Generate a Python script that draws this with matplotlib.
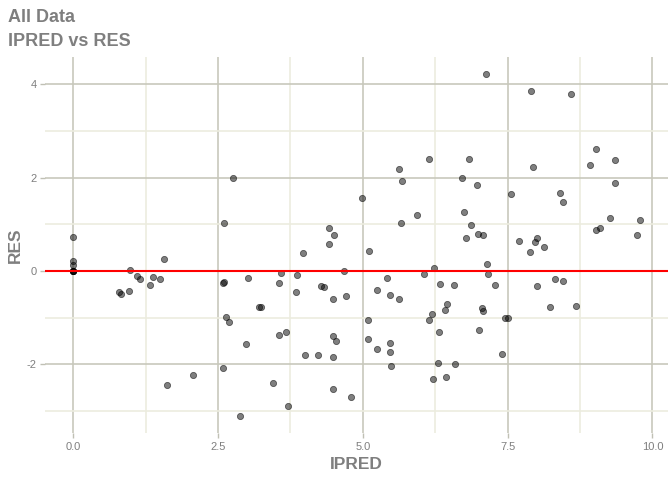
import matplotlib
matplotlib.use("Agg")
import matplotlib.pyplot as plt
import numpy as np

ipred = [0, 0, 0, 0, 0, 0, 0,
         2.76, 2.61, 1.57, 0.97, 1.10, 1.15, 1.37, 1.49, 1.33, 2.60, 0.78, 0.83, 0.96,
         1.61, 2.06,
         5.62, 5.67, 4.99, 5.65, 4.41, 4.50, 4.42, 3.97, 5.10, 3.59, 3.87, 4.67, 3.02,
         5.41, 2.59, 3.55, 4.27, 4.33, 5.25, 3.85, 5.47, 4.71, 4.48, 5.63, 3.21, 3.24,
         2.64, 2.69, 5.09, 3.67, 3.56, 4.48, 4.54, 5.09, 2.98, 5.47, 5.25, 5.47, 4.00,
         4.23, 4.49, 5.49, 2.58, 3.45, 4.49, 4.79, 3.71, 2.88,
         6.14, 6.83, 7.94, 6.72, 6.97, 7.56, 5.93, 6.74, 6.86, 6.98, 7.08, 6.78, 7.70,
         7.88, 7.98, 8.01, 8.12, 7.15, 6.22, 6.05, 7.16, 6.34, 6.58, 7.28, 8.00, 6.45,
         6.41, 6.19, 6.15, 7.05, 7.08, 7.45, 7.50, 6.31, 7.01, 7.40, 6.30, 6.59, 6.21,
         6.43,
         7.90, 8.60, 9.03, 9.36, 8.92, 9.35, 8.41, 8.45, 9.27, 9.78, 9.02, 9.10, 9.74,
         8.31, 8.45, 8.24, 8.68, 7.13]
res = [0.72, 0.22, 0.13, 0, 0, 0, 0,
       1.98, 1.03, 0.26, 0.02, -0.10, -0.18, -0.13, -0.18, -0.29, -0.24, -0.46, -0.50, -0.43,
       -2.45, -2.23,
       2.19, 1.92, 1.57, 1.03, 0.91, 0.78, 0.57, 0.38, 0.42, -0.05, -0.09, -0.01, -0.14,
       -0.14, -0.25, -0.26, -0.32, -0.35, -0.41, -0.46, -0.51, -0.53, -0.59, -0.61, -0.77, -0.76,
       -0.99, -1.09, -1.04, -1.30, -1.38, -1.39, -1.50, -1.46, -1.56, -1.55, -1.67, -1.73, -1.79,
       -1.79, -1.85, -2.03, -2.07, -2.39, -2.52, -2.70, -2.89, -3.11,
       2.39, 2.39, 2.23, 2.00, 1.83, 1.65, 1.20, 1.26, 0.98, 0.79, 0.77, 0.70, 0.64,
       0.41, 0.62, 0.70, 0.52, 0.16, 0.06, -0.06, -0.06, -0.27, -0.29, -0.29, -0.33, -0.70,
       -0.84, -0.93, -1.04, -0.80, -0.86, -1.00, -1.00, -1.30, -1.26, -1.77, -1.96, -2.00, -2.32,
       -2.27,
       3.85, 3.79, 2.60, 2.38, 2.27, 1.89, 1.66, 1.48, 1.14, 1.10, 0.87, 0.91, 0.77,
       -0.17, -0.21, -0.76, -0.74, 4.21]

x_ticks = [0.0, 2.5, 5.0, 7.5, 10.0]
x_tick_labels = ["0.0", "2.5", "5.0", "7.5", "10.0"]
y_ticks = [-2, 0, 2, 4]
y_tick_labels = ["-2", "0", "2", "4"]

grey_txt = "#7f7f7f"
fam = ["Liberation Sans", "DejaVu Sans"]

fig = plt.figure(figsize=(6.72, 4.8), dpi=100)
ax = fig.add_axes([0.067, 0.097, 0.927, 0.784])

ax.scatter(ipred, res, s=20, facecolor=(0, 0, 0, 0.5), edgecolor=(0, 0, 0, 0.55),
           linewidths=0.6, zorder=3)
ax.axhline(0, color="red", lw=1.5, zorder=4)

xr = max(ipred) - min(ipred)
yr = max(res) - min(res)
ax.set_xlim(min(ipred) - 0.05 * xr, max(ipred) + 0.05 * xr)
ax.set_ylim(min(res) - 0.05 * yr, max(res) + 0.05 * yr)

ax.set_xticks(x_ticks)
ax.set_xticklabels(x_tick_labels)
ax.set_yticks(y_ticks)
ax.set_yticklabels(y_tick_labels)
ax.set_xticks([1.25, 3.75, 6.25, 8.75], minor=True)
ax.set_yticks([-3, -1, 1, 3], minor=True)

ax.grid(which="major", color="#c8c8bc", lw=1.2, zorder=0)
ax.grid(which="minor", color="#ececdf", lw=1.2, zorder=0)
ax.set_axisbelow(True)
for sp in ax.spines.values():
    sp.set_visible(False)

ax.tick_params(axis="both", which="major", length=3.5, width=1, color="#c0c0b4",
               labelcolor=grey_txt, labelsize=8, pad=2.5)
ax.tick_params(axis="both", which="minor", length=0)
for lab in ax.get_xticklabels() + ax.get_yticklabels():
    lab.set_family(fam)

ax.set_xlabel("IPRED", fontsize=12.5, fontweight="bold", color=grey_txt, family=fam,
              labelpad=4)
ax.set_ylabel("RES", fontsize=12.5, fontweight="bold", color=grey_txt, family=fam,
              labelpad=3)

fig.text(0.012, 1 - 21.7 / 480, "All Data", fontsize=13, fontweight="bold", color=grey_txt,
         family=fam, va="baseline", ha="left")
fig.text(0.012, 1 - 45.5 / 480, "IPRED vs RES", fontsize=13, fontweight="bold",
         color=grey_txt, family=fam, va="baseline", ha="left")

fig.savefig("out.png", dpi=100)
